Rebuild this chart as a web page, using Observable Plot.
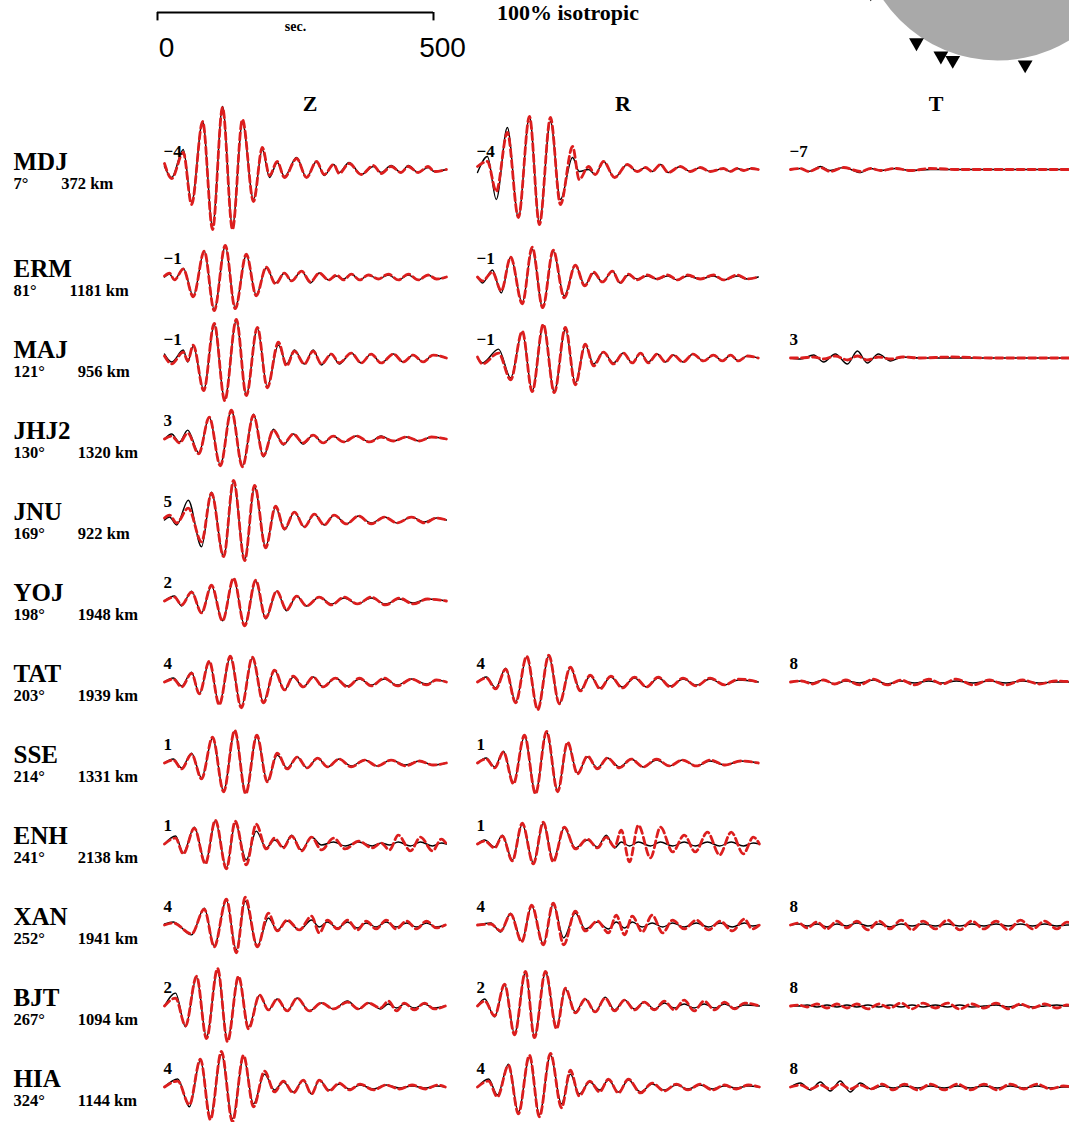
<!DOCTYPE html>
<html>
<head>
<meta charset="utf-8">
<script src="https://cdn.jsdelivr.net/npm/d3@7"></script>
<script src="https://cdn.jsdelivr.net/npm/@observablehq/plot@0.6"></script>
<style>
  html, body { margin: 0; padding: 0; background: #fff; overflow: hidden; }
  #page { position: relative; width: 1069px; height: 1122px; overflow: hidden; }
  .layer { position: absolute; }
  #title { position: absolute; left: 497px; top: 2px; font: bold 22px "Liberation Serif", "DejaVu Serif", serif; line-height: 22px; white-space: nowrap; }
</style>
</head>
<body>
<div id="page"><div id="title">100% isotropic</div></div>
<script>
const SERIF = '"Liberation Serif", "DejaVu Serif", serif';
const SANS = '"Liberation Sans", Arial, sans-serif';

// Stations, back-azimuth (deg) and epicentral distance (km)
const stations = ["MDJ", "ERM", "MAJ", "JHJ2", "JNU", "YOJ", "TAT", "SSE", "ENH", "XAN", "BJT", "HIA"];
const azimuths = [7, 81, 121, 130, 169, 198, 203, 214, 241, 252, 267, 324];
const distances = [372, 1181, 956, 1320, 922, 1948, 1939, 1331, 2138, 1941, 1094, 1144];
const components = ["Z", "R", "T"];

// Waveforms: turning points, time in s, observed and synthetic amplitudes
const MDJ_Z = {
  t:   [0,13,34,49,69,87,105,123,141,161,177,190,204,217,239,257,275,289,306,316,334,356,378,392,410,428,441,459,477,488,510],
  obs: [3,-8,20,-33,48,-57,63,-57,47,-30,20,-8,7,-7,12,-8,8,-6,5,-3,7,-5,3,-3,4,-3,4,-3,2,-2,0],
  syn: [6,-9,17,-35,48,-60,62,-60,50,-32,22,-6,8,-8,11,-8,8,-5,5,-4,6,-5,4,-4,3,-3,3,-3,3,-2,0]
};
const MDJ_R = {
  t:   [0,18,34,54,74,94,112,132,150,172,184,201,213,228,248,271,289,304,316,331,345,367,385,403,421,445,457,470,482,495,508],
  obs: [-3,13,-30,42,-48,53,-53,48,-30,12,-2,0,-5,8,-8,5,-2,2,-2,5,-3,3,-2,2,-2,1,-2,1,-1,1,0],
  syn: [3,8,-22,37,-48,53,-55,52,-35,23,-10,3,-5,8,-8,5,-2,2,-2,5,-3,3,-2,2,-2,1,-2,1,-1,1,0]
};
const MDJ_T = {
  t:   [0,18,33,54,72,96,127,145,163,190,217,253,307,380,512],
  obs: [0,1,-2,3,-1,2,-3,1,-1,1,-1,0,0,0,0],
  syn: [0,1,-2,2,-2,2,-2,1,-1,1,-1,1,0,0,0]
};
const ERM_Z = {
  t:   [0,9,18,34,52,72,90,110,128,148,166,184,201,217,230,248,264,280,297,311,324,338,353,369,387,405,423,441,459,477,492,510],
  obs: [0,3,-3,9,-19,26,-33,31,-31,22,-18,9,-6,4,-4,6,-6,4,-3,1,-2,3,-3,2,-2,2,-3,2,-3,2,-2,0],
  syn: [1,4,-3,8,-20,26,-34,32,-32,23,-19,10,-7,4,-4,6,-5,4,-3,2,-3,3,-3,2,-2,3,-3,3,-3,2,-2,0]
};
const ERM_R = {
  t:   [0,9,27,43,60,81,99,118,137,157,177,194,210,226,244,258,273,289,307,325,344,362,380,403,427,445,470,488,508],
  obs: [0,-6,7,-16,20,-26,28,-31,26,-19,12,-8,4,-5,6,-6,2,-2,1,-2,1,-3,1,-2,1,-3,1,-2,0],
  syn: [0,-4,5,-14,20,-27,30,-31,27,-21,12,-9,5,-5,6,-6,3,-3,2,-2,2,-3,2,-2,2,-3,2,-2,0]
};
const MAJ_Z = {
  t:   [0,13,34,42,52,71,90,109,130,148,168,186,206,221,235,253,269,284,302,316,338,356,374,392,414,432,450,468,486,510],
  obs: [4,-4,8,-4,12,-32,33,-42,38,-37,30,-29,13,-6,8,-6,8,-7,4,-6,5,-5,4,-5,4,-4,3,-4,3,0],
  syn: [2,-6,6,-3,13,-33,35,-43,39,-38,31,-30,16,-8,7,-6,7,-6,4,-5,5,-5,4,-5,4,-4,3,-4,3,0]
};
const MAJ_R = {
  t:   [0,9,38,60,81,99,119,139,159,177,195,210,228,246,264,280,295,309,325,340,354,372,390,409,427,443,458,472,488,508],
  obs: [0,-5,9,-20,26,-33,33,-34,29,-25,13,-6,6,-5,5,-5,5,-4,4,-4,3,-4,4,-3,3,-3,3,-3,2,0],
  syn: [1,-6,5,-22,27,-34,34,-35,31,-27,14,-8,6,-6,5,-5,5,-5,4,-4,3,-4,4,-3,3,-3,3,-3,2,0]
};
const MAJ_T = {
  t:   [0,18,42,60,81,103,121,139,159,181,203,235,289,362,434,512],
  obs: [0,-1,3,-4,4,-6,7,-5,4,-3,1,0,0,0,0,0],
  syn: [0,0,1,-1,2,-2,2,-2,1,-1,1,0,1,0,0,0]
};
const JHJ2_Z = {
  t:   [0,13,27,42,62,81,101,121,141,161,179,197,215,233,251,269,287,305,324,347,371,392,414,438,461,483,510],
  obs: [0,5,-3,9,-14,22,-26,29,-27,25,-18,10,-6,5,-5,4,-4,3,-3,3,-3,3,-2,2,-2,2,0],
  syn: [0,3,-4,6,-15,22,-27,29,-28,24,-17,9,-5,5,-4,4,-4,3,-3,3,-3,2,-2,2,-2,2,0]
};
const JNU_Z = {
  t:   [0,9,22,43,67,85,107,125,145,163,183,201,217,235,253,271,289,307,329,351,374,398,421,447,470,492,510],
  obs: [0,3,-5,20,-27,28,-37,38,-40,33,-27,13,-10,8,-7,6,-5,5,-4,4,-3,3,-3,3,-2,2,0],
  syn: [2,5,-3,12,-22,27,-37,40,-41,35,-28,14,-9,8,-7,6,-5,5,-4,4,-4,3,-3,3,-3,2,0]
};
const YOJ_Z = {
  t:   [0,18,31,49,67,85,105,125,145,165,183,203,221,239,257,280,302,325,349,374,400,425,450,476,510],
  obs: [0,5,-5,10,-12,15,-20,22,-25,20,-18,10,-10,5,-5,4,-3,3,-3,3,-3,2,-2,2,0],
  syn: [0,4,-4,9,-12,16,-20,23,-25,21,-17,10,-9,5,-5,4,-4,4,-3,4,-4,3,-3,2,0]
};
const TAT_Z = {
  t:   [0,16,31,49,63,81,99,119,139,159,179,199,217,233,251,269,287,309,331,353,374,398,421,447,474,492,510],
  obs: [0,4,-4,10,-12,20,-22,25,-25,24,-20,12,-8,5,-5,5,-5,4,-4,3,-3,3,-3,3,-2,2,0],
  syn: [0,3,-5,9,-12,21,-23,26,-26,25,-21,12,-8,6,-5,5,-5,4,-5,4,-4,4,-4,3,-3,2,0]
};
const TAT_R = {
  t:   [0,16,33,51,69,89,109,129,148,168,186,204,222,241,262,284,306,327,349,372,396,421,447,472,508],
  obs: [0,5,-6,14,-20,25,-27,26,-22,14,-8,6,-6,5,-5,4,-5,4,-4,3,-3,3,-3,2,0],
  syn: [0,4,-7,13,-21,26,-28,27,-22,15,-9,7,-7,6,-6,5,-5,5,-5,4,-4,4,-3,3,0]
};
const TAT_T = {
  t:   [0,20,40,60,80,100,125,150,175,200,225,250,275,300,330,360,390,420,450,480,512],
  obs: [0,1,-1,2,-2,1,-1,2,-2,1,-1,1,-1,1,-1,1,-1,1,-1,0,0],
  syn: [0,1,-2,2,-2,2,-3,3,-3,2,-3,3,-2,3,-3,2,-3,2,-2,1,0]
};
const SSE_Z = {
  t:   [0,16,31,49,67,87,107,127,147,167,186,204,222,240,258,277,295,316,338,362,385,410,436,461,486,510],
  obs: [0,4,-5,10,-15,25,-28,32,-30,27,-18,8,-5,6,-5,5,-4,4,-3,3,-3,3,-2,2,-2,0],
  syn: [0,3,-6,9,-16,26,-29,33,-31,28,-19,10,-6,6,-5,5,-4,4,-4,3,-3,3,-3,2,-2,0]
};
const SSE_R = {
  t:   [0,16,31,47,65,85,105,125,145,163,181,199,217,235,257,278,300,324,347,371,396,421,448,476,508],
  obs: [0,5,-4,12,-20,27,-30,31,-28,20,-10,6,-5,5,-4,4,-4,3,-3,3,-3,2,-2,2,0],
  syn: [0,4,-5,11,-21,28,-31,32,-29,21,-11,7,-6,5,-5,4,-4,4,-3,3,-3,3,-2,2,0]
};
const ENH_Z = {
  t:   [0,20,34,54,74,92,112,128,148,166,184,199,215,230,248,266,284,306,327,351,376,392,407,423,445,463,485,501,510],
  obs: [0,8,-9,17,-19,23,-24,21,-16,13,-4,4,-3,9,-6,7,-1,2,-2,2,-2,1,-1,2,-2,2,-2,1,0],
  syn: [0,6,-10,16,-20,24,-25,23,-21,20,-5,6,-4,8,-7,7,-6,6,-5,3,-4,1,-6,9,-7,7,-7,5,0]
};
const ENH_R = {
  t:   [0,13,31,45,63,81,101,119,137,157,177,199,217,233,248,260,275,291,313,331,353,374,394,416,438,459,481,499,510],
  obs: [0,4,-3,9,-16,20,-19,21,-16,16,-4,4,-3,9,-4,2,-2,2,-2,2,-2,2,-2,2,-2,2,-2,1,0],
  syn: [0,3,-4,8,-17,21,-20,22,-18,17,-5,5,-4,7,-3,14,-18,19,-14,17,-8,9,-8,12,-11,12,-10,7,0]
};
const XAN_Z = {
  t:   [0,16,49,72,90,112,130,146,168,188,204,222,244,266,280,295,313,331,349,365,383,401,419,438,456,474,492,508],
  obs: [1,3,-10,17,-21,25,-25,24,-21,7,-5,4,-5,5,-2,3,-3,3,-3,2,-2,3,-2,2,-2,2,-2,0],
  syn: [0,2,-9,16,-22,26,-28,28,-22,12,-6,5,-5,9,-8,5,-4,5,-5,4,-4,5,-4,4,-4,4,-3,0]
};
const XAN_R = {
  t:   [0,24,42,60,80,98,119,137,156,177,195,217,237,251,266,280,298,316,335,353,374,396,418,439,461,483,497,510],
  obs: [0,2,-7,12,-16,19,-19,21,-13,12,-4,3,-4,3,-3,3,-2,2,-2,2,-2,2,-2,2,-2,2,-1,0],
  syn: [0,1,-6,11,-17,20,-20,22,-20,14,-6,4,-8,10,-10,9,-7,10,-8,5,-4,5,-5,4,-6,6,-4,0]
};
const XAN_T = {
  t:   [0,15,30,48,66,84,102,120,140,160,180,200,220,240,262,284,306,328,350,372,394,416,438,460,482,500,512],
  obs: [0,1,-1,1,-2,1,-1,2,-1,1,-2,1,-1,1,-1,1,-1,1,-1,1,-1,1,-1,1,-1,0,0],
  syn: [0,2,-3,3,-4,4,-3,4,-5,4,-4,5,-5,4,-4,5,-5,4,-4,4,-5,5,-4,4,-4,3,0]
};
const BJT_Z = {
  t:   [0,20,38,58,76,96,114,134,152,172,188,204,222,240,262,284,306,331,351,369,391,405,420,434,452,470,488,508],
  obs: [0,13,-21,29,-31,36,-34,29,-21,11,-4,7,-5,8,-5,3,-3,5,-3,3,-3,2,-2,2,-2,2,-2,0],
  syn: [0,8,-20,30,-33,38,-36,30,-23,11,-4,7,-5,8,-5,3,-3,4,-3,3,-2,5,-5,3,-4,3,-3,0]
};
const BJT_R = {
  t:   [0,13,31,49,67,87,103,123,143,159,177,195,213,231,248,266,284,302,320,338,356,374,392,410,429,447,465,483,510],
  obs: [0,7,-11,22,-28,34,-31,34,-21,17,-6,7,-6,9,-4,6,-3,4,-3,3,-2,2,-2,2,-2,2,-2,1,0],
  syn: [0,5,-10,22,-29,35,-32,35,-23,18,-7,7,-6,8,-5,6,-4,4,-4,5,-4,6,-5,5,-4,4,-3,3,0]
};
const BJT_T = {
  t:   [0,15,30,48,66,84,102,120,140,160,180,200,220,240,262,284,306,328,350,372,394,416,438,460,482,500,512],
  obs: [0,0,1,-1,1,-1,1,-1,1,-1,1,-1,1,-1,1,-1,1,-1,0,1,-1,1,-1,0,1,0,0],
  syn: [0,1,-1,2,-2,2,-2,2,-3,2,-2,3,-3,3,-2,3,-3,2,-2,3,-3,2,-2,2,-2,1,0]
};
const HIA_Z = {
  t:   [0,24,45,65,83,103,123,143,161,181,199,215,233,251,266,280,298,316,335,354,378,401,425,448,472,494,508],
  obs: [0,8,-20,27,-30,33,-32,30,-17,13,-3,5,-5,7,-7,7,-3,3,-2,2,-2,2,-1,1,-1,1,0],
  syn: [0,6,-18,28,-33,36,-35,32,-20,16,-5,6,-6,7,-7,7,-4,4,-3,3,-3,2,-2,2,-2,2,0]
};
const HIA_R = {
  t:   [0,20,36,56,74,94,112,132,152,168,184,203,221,237,255,273,295,316,338,360,381,403,425,447,468,490,510],
  obs: [0,8,-8,23,-25,30,-28,32,-17,13,-7,5,-3,7,-5,7,-5,3,-3,2,-2,2,-2,1,-1,1,0],
  syn: [0,6,-10,22,-27,32,-30,34,-21,17,-9,6,-5,8,-6,8,-6,4,-4,3,-3,3,-3,2,-2,2,0]
};
const HIA_T = {
  t:   [0,18,36,54,72,90,108,126,146,166,186,206,230,254,278,302,326,350,374,398,422,446,470,494,512],
  obs: [0,4,-3,5,-4,6,-5,4,-2,1,-1,1,-1,1,-1,1,-1,1,-1,1,-1,1,-1,0,0],
  syn: [0,2,-2,2,-2,3,-2,2,-2,3,-3,3,-3,3,-3,3,-3,3,-3,3,-2,3,-2,1,0]
};

// station, component, amplitude label, waveform
const panels = [
  ["MDJ", "Z", "\u22124", MDJ_Z], ["MDJ", "R", "\u22124", MDJ_R], ["MDJ", "T", "\u22127", MDJ_T],
  ["ERM", "Z", "\u22121", ERM_Z], ["ERM", "R", "\u22121", ERM_R],
  ["MAJ", "Z", "\u22121", MAJ_Z], ["MAJ", "R", "\u22121", MAJ_R], ["MAJ", "T", "3", MAJ_T],
  ["JHJ2", "Z", "3", JHJ2_Z],
  ["JNU", "Z", "5", JNU_Z],
  ["YOJ", "Z", "2", YOJ_Z],
  ["TAT", "Z", "4", TAT_Z], ["TAT", "R", "4", TAT_R], ["TAT", "T", "8", TAT_T],
  ["SSE", "Z", "1", SSE_Z], ["SSE", "R", "1", SSE_R],
  ["ENH", "Z", "1", ENH_Z], ["ENH", "R", "1", ENH_R],
  ["XAN", "Z", "4", XAN_Z], ["XAN", "R", "4", XAN_R], ["XAN", "T", "8", XAN_T],
  ["BJT", "Z", "2", BJT_Z], ["BJT", "R", "2", BJT_R], ["BJT", "T", "8", BJT_T],
  ["HIA", "Z", "4", HIA_Z], ["HIA", "R", "4", HIA_R], ["HIA", "T", "8", HIA_T]
];

const samples = panels.flatMap(([station, comp, , w]) =>
  w.t.map((t, i) => ({station, comp, t, obs: w.obs[i], syn: w.syn[i]})));
const panelLabels = panels.map(([station, comp, label]) => ({station, comp, label}));
const stationInfo = stations.map((station, i) => ({station, az: azimuths[i], dist: distances[i]}));

const page = document.getElementById("page");
function place(node, left, top) {
  const div = document.createElement("div");
  div.className = "layer";
  div.style.left = left + "px";
  div.style.top = top + "px";
  div.appendChild(node);
  page.appendChild(div);
}

// Time scale bar (0–500 s)
const scaleBar = Plot.plot({
  width: 1069, height: 72,
  marginLeft: 157, marginRight: 636, marginTop: 12, marginBottom: 48,
  style: {background: "transparent", overflow: "visible", maxWidth: "none"},
  x: {domain: [0, 500], axis: null},
  y: {domain: [0, 1], axis: null},
  marks: [
    Plot.ruleY([1], {x1: 0, x2: 500, stroke: "#000", strokeWidth: 2}),
    Plot.ruleX([0, 500], {y1: 0.3, y2: 1, stroke: "#000", strokeWidth: 2}),
    Plot.text(["sec."], {x: 250, y: 1, dy: 14, fontSize: 14, fontWeight: "bold", fontFamily: SERIF}),
    Plot.text([0, 500], {x: d => d, y: 0, text: d => String(d), dx: 9, dy: 24, fontSize: 28, fontFamily: SANS})
  ]
});
place(scaleBar, 0, 0);

// Focal sphere with station azimuths
const sphere = Plot.plot({
  width: 280, height: 280, margin: 2,
  style: {background: "transparent", overflow: "visible", maxWidth: "none"},
  x: {domain: [-1, 1], axis: null},
  y: {domain: [-1, 1], axis: null},
  marks: [
    Plot.dot([0], {x: 0, y: 0, r: 138, fill: "#a9a9a9"}),
    Plot.dot(stationInfo, {
      x: d => 1.05 * Math.sin(d.az * Math.PI / 180),
      y: d => 1.05 * Math.cos(d.az * Math.PI / 180),
      symbol: "triangle", rotate: 180, r: 5.5, fill: "#000"
    })
  ]
});
place(sphere, 857, -218);

// Rows of Z / R / T traces; one y unit is one pixel
function traceRows(rows, {height, marginTop, header}) {
  const half = (height - marginTop) / rows.length / 2;
  const inRows = d => rows.includes(d.station);
  const rowSamples = samples.filter(inRows);
  return Plot.plot({
    width: 1073, height, marginTop, marginBottom: 0, marginLeft: 163, marginRight: 0,
    style: {background: "transparent", overflow: "visible", maxWidth: "none"},
    fx: {domain: components, paddingInner: 0.097, paddingOuter: 0, axis: null},
    fy: {domain: rows, padding: 0, axis: null},
    x: {domain: [0, 512], axis: null},
    y: {domain: [-half, half], axis: null},
    marks: [
      header ? Plot.text(components, {
        fx: d => d, text: d => d, frameAnchor: "top", dx: 4, dy: -11,
        fontSize: 22, fontWeight: "bold", fontFamily: SERIF
      }) : null,
      Plot.text(stationInfo.filter(inRows), {
        fx: () => "Z", fy: "station", x: 0, y: 0, text: "station",
        textAnchor: "start", dx: -151, dy: -8,
        fontSize: 25, fontWeight: "bold", fontFamily: SERIF
      }),
      Plot.text(stationInfo.filter(inRows), {
        fx: () => "Z", fy: "station", x: 0, y: 0,
        text: d => `${d.az}\u00b0\u00a0\u00a0\u00a0\u00a0\u00a0\u00a0\u00a0\u00a0${d.dist} km`,
        textAnchor: "start", dx: -151, dy: 14,
        fontSize: 16.5, fontWeight: "bold", fontFamily: SERIF
      }),
      Plot.line(rowSamples, {
        fx: "comp", fy: "station", x: "t", y: "obs",
        curve: "monotone-x", stroke: "#000", strokeWidth: 1.4
      }),
      Plot.line(rowSamples, {
        fx: "comp", fy: "station", x: "t", y: "syn",
        curve: "monotone-x", stroke: "#dc1e1e", strokeWidth: 2.8, strokeDasharray: "7,4"
      }),
      Plot.text(panelLabels.filter(inRows), {
        fx: "comp", fy: "station", x: 0, y: 0, text: "label",
        textAnchor: "start", dx: -1, dy: -18,
        fontSize: 17, fontWeight: "bold", fontFamily: SERIF
      })
    ]
  });
}

place(traceRows(stations.slice(0, 1), {height: 162, marginTop: 36, header: true}), 0, 70);
place(traceRows(stations.slice(1), {height: 899, marginTop: 0, header: false}), 0, 232);
</script>
</body>
</html>
